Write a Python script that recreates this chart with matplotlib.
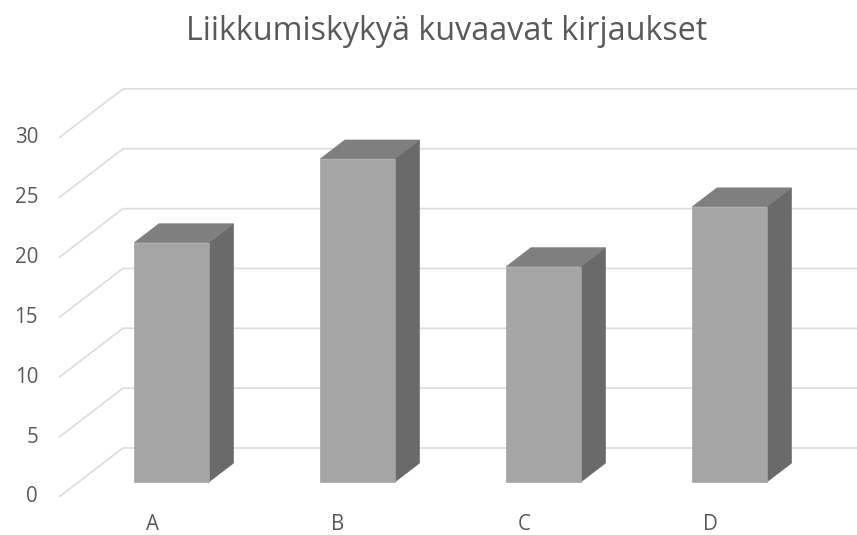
import matplotlib
matplotlib.use('Agg')
import matplotlib.pyplot as plt
from matplotlib.patches import Polygon

categories = ['A', 'B', 'C', 'D']
values = [20, 27, 18, 23]
yticks = [0, 5, 10, 15, 20, 25, 30]
title = 'Liikkumiskykyä kuvaavat kirjaukset'

W, H = 857, 535
fig = plt.figure(figsize=(W / 100, H / 100), dpi=100)
ax = fig.add_axes([0, 0, 1, 1])
# front-plane mapping (pixels): px = 152 + 186*x ; py(top) = 497 - 11.97*v
x0px, xs = 152, 186
y0px, ys = 497, 11.97
ax.set_xlim((0 - x0px) / xs, (W - x0px) / xs)
ax.set_ylim((y0px - H) / ys, y0px / ys)
ax.axis('off')

DX = 64 / xs   # oblique depth offset in data units
DY = 49 / ys


def P(x, v, d):
    return (x + d * DX, v + d * DY)


grid_c = '#dcdcdc'
text_c = '#595959'
font = ['Open Sans', 'DejaVu Sans']
xmin, xmax = -0.5, len(categories) - 0.5

# gridlines on side wall and back wall
for t in yticks:
    a = P(xmin, t, 0)
    b = P(xmin, t, 1)
    c = P(xmax, t, 1)
    ax.plot([a[0], b[0], c[0]], [a[1], b[1], c[1]], color=grid_c, lw=1.2,
            zorder=1, solid_capstyle='butt')
    ax.text(xmin - 21 / xs, t, str(t), ha='right', va='center', fontsize=14.8,
            color=text_c, family=font)

# bars
bw = 0.4
d0, d1 = 0.306, 0.69
front_c, side_c, top_c = '#a5a5a5', '#6a6a6a', '#7f7f7f'
for k, (cat, v) in enumerate(zip(categories, values)):
    xl, xr = k - bw / 2, k + bw / 2
    front = [P(xl, 0, d0), P(xr, 0, d0), P(xr, v, d0), P(xl, v, d0)]
    side = [P(xr, 0, d0), P(xr, 0, d1), P(xr, v, d1), P(xr, v, d0)]
    top = [P(xl, v, d0), P(xr, v, d0), P(xr, v, d1), P(xl, v, d1)]
    for poly, col in ((side, side_c), (top, top_c), (front, front_c)):
        ax.add_patch(Polygon(poly, closed=True, facecolor=col, edgecolor=col,
                             lw=0.5, zorder=3))
    ax.text(k, (y0px - 524) / ys, cat, ha='center', va='center', fontsize=14.8,
            color=text_c, family=font)

fig.text(447 / W, 1 - 32 / H, title, ha='center', va='center', fontsize=23.2,
         color=text_c, family=font)

fig.savefig('out.png', dpi=100)
